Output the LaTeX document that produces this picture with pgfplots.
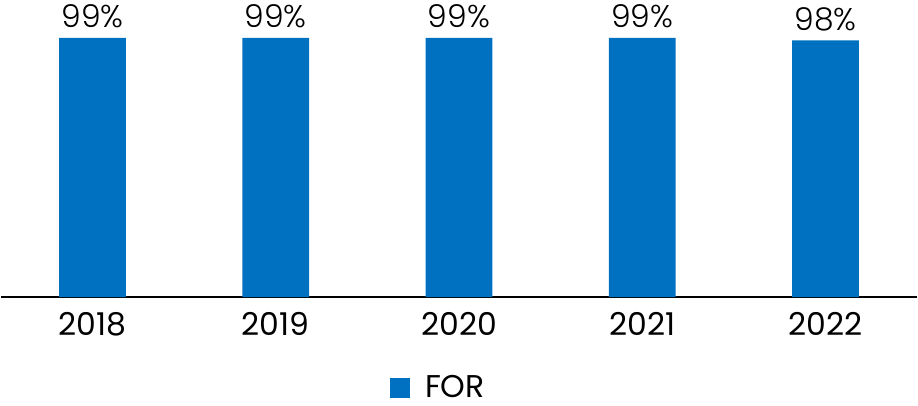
\documentclass[border=0pt]{standalone}
\usepackage{pgfplots}
\pgfplotsset{compat=1.18}
\usepackage{fontspec}
\setmainfont{Poppins}
\newfontfamily\lightfont{Poppins Light}
\definecolor{barblue}{HTML}{0070C0}
\begin{document}
\begin{tikzpicture}[x=1pt,y=1pt]
\begin{axis}[
  scale only axis,
  width=367.2pt, height=105pt,
  xmin=-0.5, xmax=4.5, ymin=0, ymax=100,
  axis x line=bottom, axis y line=none,
  axis line style={black, line width=0.7pt, -},
  xtick=data,
  xticklabels={2018,2019,2020,2021,2022},
  major tick length=0pt,
  xticklabel style={anchor=north, inner sep=0pt, yshift=-6pt, font=\fontsize{12.6}{15}\selectfont},
  ytick=\empty,
  clip=false,
  bar width=26.8pt,
  /pgf/number format/assume math mode=true,
  nodes near coords={\pgfmathprintnumber{\pgfplotspointmeta}\%},
  nodes near coords style={anchor=south, inner xsep=0pt, inner ysep=2pt, yshift=1.6pt, font=\lightfont\fontsize{12.6}{15}\selectfont},
  legend style={at={(0.4248,0)}, yshift=-29.2pt, anchor=north west, draw=none, inner xsep=0pt, inner ysep=2pt, outer sep=0pt,
    font=\fontsize{12.6}{15}\selectfont, column sep=0pt,
    nodes={inner sep=0pt}},
  legend image code/.code={\fill[barblue] (0pt,-4pt) rectangle (8pt,4pt);},
  legend cell align=left,
]
\addplot[ybar, fill=barblue, draw=none] coordinates {(0,99) (1,99) (2,99) (3,99) (4,98)};
\addlegendentry{\hspace{6pt}FOR}
\end{axis}
\end{tikzpicture}
\end{document}
